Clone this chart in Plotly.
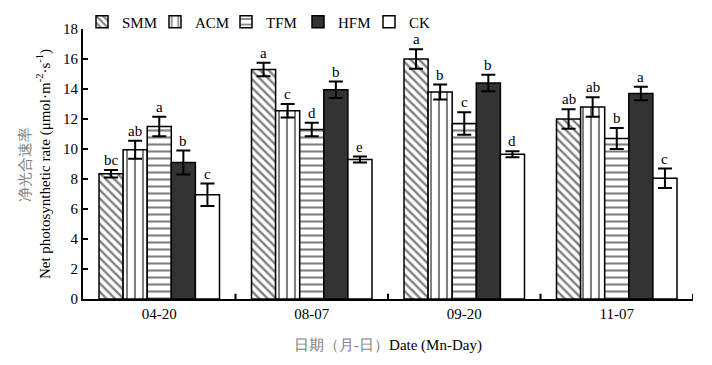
import plotly.graph_objects as go

dates = ["04-20", "08-07", "09-20", "11-07"]
series_names = ["SMM", "ACM", "TFM", "HFM", "CK"]
smm = [8.35, 15.3, 16.0, 12.0]
acm = [9.95, 12.55, 13.8, 12.8]
tfm = [11.5, 11.3, 11.7, 10.7]
hfm = [9.1, 13.95, 14.4, 13.7]
ck = [6.95, 9.3, 9.65, 8.05]
smm_err = [0.25, 0.45, 0.65, 0.65]
acm_err = [0.6, 0.45, 0.5, 0.65]
tfm_err = [0.65, 0.45, 0.75, 0.7]
hfm_err = [0.8, 0.55, 0.55, 0.45]
ck_err = [0.75, 0.2, 0.2, 0.65]
smm_lbl = ["bc", "a", "a", "ab"]
acm_lbl = ["ab", "c", "b", "ab"]
tfm_lbl = ["a", "d", "c", "b"]
hfm_lbl = ["b", "b", "b", "a"]
ck_lbl = ["c", "e", "d", "c"]
y_ticks = [0, 2, 4, 6, 8, 10, 12, 14, 16, 18]

values = [smm, acm, tfm, hfm, ck]
errors = [smm_err, acm_err, tfm_err, hfm_err, ck_err]
labels = [smm_lbl, acm_lbl, tfm_lbl, hfm_lbl, ck_lbl]
styles = [
    dict(color="white", pattern=dict(shape="\\", fgcolor="black", bgcolor="white", size=6, solidity=0.4)),
    dict(color="white", pattern=dict(shape="|", fgcolor="black", bgcolor="white", size=8, solidity=0.25)),
    dict(color="white", pattern=dict(shape="-", fgcolor="black", bgcolor="white", size=7, solidity=0.3)),
    dict(color="#333333"),
    dict(color="white"),
]
legend_left_px = [82, 155, 226, 298, 369]

FONT = "Liberation Serif"
bargap = 0.21
n = len(series_names)
bw = (1 - bargap) / n

fig = go.Figure()
legend_layout = {}
for j, name in enumerate(series_names):
    lname = "legend" if j == 0 else f"legend{j + 1}"
    fig.add_trace(go.Bar(
        x=list(range(len(dates))), y=values[j], name=name, legend=lname,
        marker=dict(line=dict(color="black", width=1.5), **styles[j]),
        error_y=dict(type="data", array=errors[j], color="black", thickness=2, width=7),
    ))
    legend_layout[lname] = dict(
        orientation="h", xref="container", yref="container",
        x=legend_left_px[j] / 712, y=1 - 22 / 365, xanchor="left", yanchor="middle",
        font=dict(family=FONT, size=15), bgcolor="rgba(0,0,0,0)",
    )
    for i in range(len(dates)):
        fig.add_annotation(
            x=i + (j - (n - 1) / 2) * bw, y=values[j][i] + errors[j][i],
            text=labels[j][i], showarrow=False, yanchor="bottom", yshift=0,
            font=dict(family=FONT, size=15, color="black"),
        )

fig.update_layout(
    width=712, height=365,
    margin=dict(l=83, r=19, t=29, b=66, autoexpand=False),
    paper_bgcolor="white", plot_bgcolor="white",
    barmode="group", bargap=bargap, bargroupgap=0,
    font=dict(family=FONT, size=15, color="black"),
    showlegend=True,
    **legend_layout,
)
fig.update_xaxes(
    range=[-0.5, len(dates) - 0.5], tickmode="array",
    tickvals=list(range(len(dates))), ticktext=dates, automargin=False,
    showline=True, linecolor="black", linewidth=2, mirror=False,
    ticks="", showgrid=False, zeroline=False,
    title=dict(text="<span style='color:#808080'>日期（月-日）</span>Date (Mn-Day)",
               font=dict(family=FONT, size=15), standoff=18),
)
for k in range(len(dates)):
    fig.add_shape(type="line", xref="x", yref="y", x0=k + 0.5, x1=k + 0.5, y0=0, y1=0.35,
                  line=dict(color="black", width=2))
fig.update_yaxes(
    range=[0, 18], tickvals=y_ticks, ticks="inside", ticklen=5, tickwidth=2, tickcolor="black",
    showline=True, linecolor="black", linewidth=2, showgrid=False, zeroline=False,
    automargin=False,
    title=dict(text="<span style='color:#808080'>净光合速率</span><br>Net photosynthetic rate (μmol·m<sup>-2</sup>·s<sup>-1</sup>)",
               font=dict(family=FONT, size=15), standoff=9),
)
fig.write_html("out.html", config={"displayModeBar": False},
               post_script="document.body.style.margin='0';document.body.style.overflow='hidden';")
